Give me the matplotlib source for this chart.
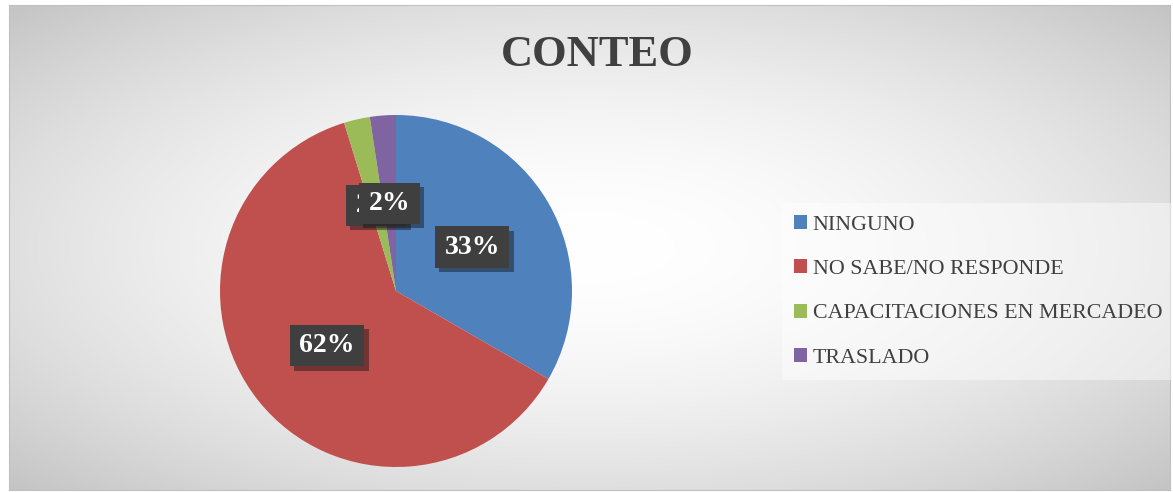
import numpy as np
import matplotlib
matplotlib.use("Agg")
import matplotlib.pyplot as plt
import matplotlib.patheffects as pe
from matplotlib.path import Path

categories = ["NINGUNO", "NO SABE/NO RESPONDE", "CAPACITACIONES EN MERCADEO", "TRASLADO"]
counts = [14, 26, 1, 1]
colors = ["#4F81BD", "#C0504D", "#9BBB59", "#8064A2"]
title = "CONTEO"

W, H = 1173, 492
fig = plt.figure(figsize=(W / 100, H / 100), dpi=100)
fig.patch.set_facecolor("white")

# background chart area with radial gradient
x0, y0, x1, y1 = 9, 5, 1170, 490
bg = fig.add_axes([x0 / W, 1 - y1 / H, (x1 - x0) / W, (y1 - y0) / H])
nx, ny = 400, 200
xx, yy = np.meshgrid(np.linspace(-1, 1, nx), np.linspace(-1, 1, ny))
d = np.sqrt((xx ** 2 + yy ** 2) / 2.0)
val = 1.0 - (1.0 - 196 / 255) * d ** 1.8
img = np.dstack([val, val, val])
bg.imshow(img, aspect="auto", extent=[0, 1, 0, 1], interpolation="bilinear")
bg.set_xticks([]); bg.set_yticks([])
for s in bg.spines.values():
    s.set_color("#c0c0c0"); s.set_linewidth(0.8)

# pie
cx, cy, r = 396, 291, 176
ax = fig.add_axes([(cx - r) / W, (H - cy - r) / H, 2 * r / W, 2 * r / H])
wedges, _ = ax.pie(counts, colors=colors, startangle=90, counterclock=False,
                   radius=1.0, wedgeprops=dict(linewidth=0))
ax.set_xlim(-1, 1); ax.set_ylim(-1, 1)
ax.set_aspect("equal")
ax.axis("off")


def label_box(bx, by, bw, bh, mutation_size):
    px = 0.34 * mutation_size
    py = 0.29 * mutation_size
    verts = [(bx - px, by - py), (bx + bw + px, by - py), (bx + bw + px, by + bh + py),
             (bx - px, by + bh + py), (bx - px, by - py)]
    return Path(verts, closed=True)


total = sum(counts)
for w, c in zip(wedges, counts):
    ang = np.deg2rad((w.theta1 + w.theta2) / 2)
    t = ax.text(0.5 * np.cos(ang), 0.5 * np.sin(ang), f"{round(100 * c / total)}%",
                ha="center", va="center", color="white", fontsize=20, fontweight="bold",
                family="Liberation Serif",
                bbox=dict(boxstyle=label_box, facecolor="#3f3f3f", edgecolor="none"))
    t.get_bbox_patch().set_path_effects([pe.withSimplePatchShadow(offset=(3, -3), alpha=0.45)])

fig.text(597 / W, 1 - 55 / H, title, ha="center", va="center", fontsize=32,
         fontweight="bold", color="#404040", family="Liberation Serif")

leg = fig.legend(wedges, categories, loc="upper left",
                 bbox_to_anchor=(782 / W, 1 - 203 / H), frameon=True,
                 prop=dict(family="Liberation Serif", size=15.8),
                 handlelength=0.6, handleheight=0.6, handletextpad=0.25,
                 labelspacing=1.12, borderpad=0.55, borderaxespad=0)
leg.get_frame().set_facecolor("white")
leg.get_frame().set_alpha(0.45)
leg.get_frame().set_edgecolor("none")
leg.get_frame().set_boxstyle("square", pad=0)
for txt in leg.get_texts():
    txt.set_color("#404040")

fig.savefig("out.png", dpi=100)
